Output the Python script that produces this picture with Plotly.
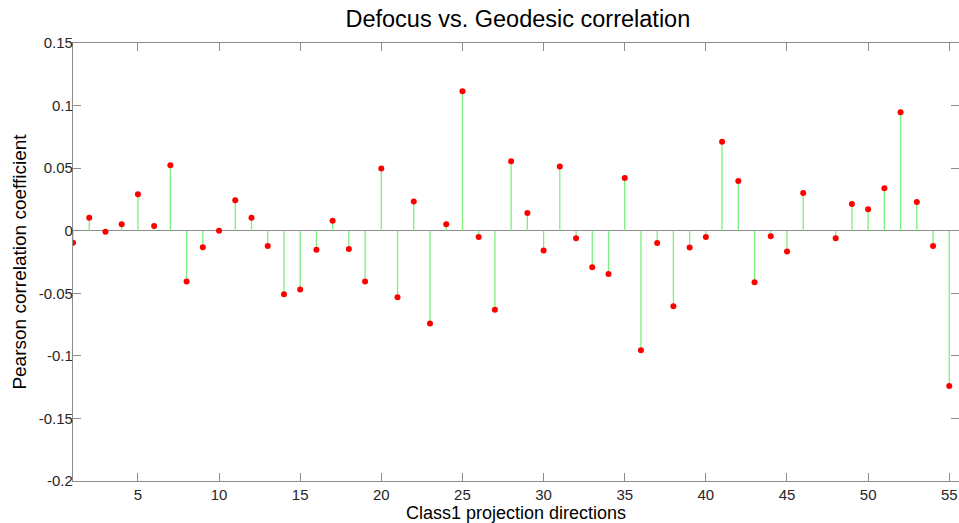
import plotly.graph_objs as go

# projection directions (47 has no value in the source plot)
directions = [1, 2, 3, 4, 5, 6, 7, 8, 9, 10, 11, 12, 13, 14, 15, 16, 17, 18, 19, 20,
              21, 22, 23, 24, 25, 26, 27, 28, 29, 30, 31, 32, 33, 34, 35, 36, 37, 38, 39, 40,
              41, 42, 43, 44, 45, 46, 48, 49, 50, 51, 52, 53, 54, 55]
pearson = [-0.0096, 0.0104, -0.0008, 0.0051, 0.0291, 0.0037, 0.0524, -0.0405, -0.0133, 0.0,
           0.0243, 0.0104, -0.0123, -0.0507, -0.0470, -0.0152, 0.0080, -0.0147, -0.0406, 0.0497,
           -0.0531, 0.0233, -0.0741, 0.0051, 0.1115, -0.0051, -0.0632, 0.0556, 0.0142, -0.0158,
           0.0513, -0.0061, -0.0291, -0.0345, 0.0422, -0.0955, -0.0099, -0.0603, -0.0134, -0.0051,
           0.0711, 0.0398, -0.0411, -0.0045, -0.0166, 0.0302, -0.0061, 0.0214, 0.0171, 0.0340,
           0.0947, 0.0230, -0.0123, -0.1240]
y_ticks = [0.15, 0.1, 0.05, 0, -0.05, -0.1, -0.15, -0.2]
y_tick_labels = ["0.15", "0.1", "0.05", "0", "-0.05", "-0.1", "-0.15", "-0.2"]
x_ticks = [5, 10, 15, 20, 25, 30, 35, 40, 45, 50, 55]

# stems from the baseline up/down to each value
stem_x = []
stem_y = []
for d, r in zip(directions, pearson):
    stem_x += [d, d, None]
    stem_y += [0, r, None]

font = "Liberation Sans, Arial, sans-serif"

fig = go.Figure()
fig.add_trace(go.Scatter(
    x=stem_x, y=stem_y, mode="lines",
    line=dict(color="#7ef07e", width=1.3),
    hoverinfo="skip", showlegend=False))
fig.add_trace(go.Scatter(
    x=directions, y=pearson, mode="markers",
    marker=dict(color="#ff0000", size=6, line=dict(width=0)),
    showlegend=False))

axis_common = dict(
    showline=True, linecolor="#8c8c8c", linewidth=1.3, mirror="ticks",
    ticks="inside", ticklen=8, tickcolor="#8c8c8c", tickwidth=1.3,
    showgrid=False, tickfont=dict(family=font, size=15, color="#262626"))

fig.update_layout(
    width=959, height=523,
    margin=dict(l=73, r=0, t=43, b=42),
    paper_bgcolor="white", plot_bgcolor="white",
    title=dict(text="Defocus vs. Geodesic correlation", x=0.54, xanchor="center",
               y=0.965, yanchor="middle",
               font=dict(family=font, size=23.5, color="#000000")),
    xaxis=dict(range=[1, 55.6], tickvals=x_ticks, zeroline=False,
               title=dict(text="Class1 projection directions", standoff=1,
                          font=dict(family=font, size=18, color="#000000")),
               **axis_common),
    yaxis=dict(range=[-0.2, 0.15], tickvals=y_ticks, ticktext=y_tick_labels,
               zeroline=True, zerolinecolor="#8c8c8c", zerolinewidth=1.3,
               ticklabelstandoff=-4,
               title=dict(text="Pearson correlation coefficient", standoff=6,
                          font=dict(family=font, size=19, color="#000000")),
               **axis_common),
)

# drop the default page margin so the figure sits flush with the window
fig.write_html("out.html", config={"displayModeBar": False},
               post_script="document.body.style.margin='0';"
                           "document.body.style.overflow='hidden';")
